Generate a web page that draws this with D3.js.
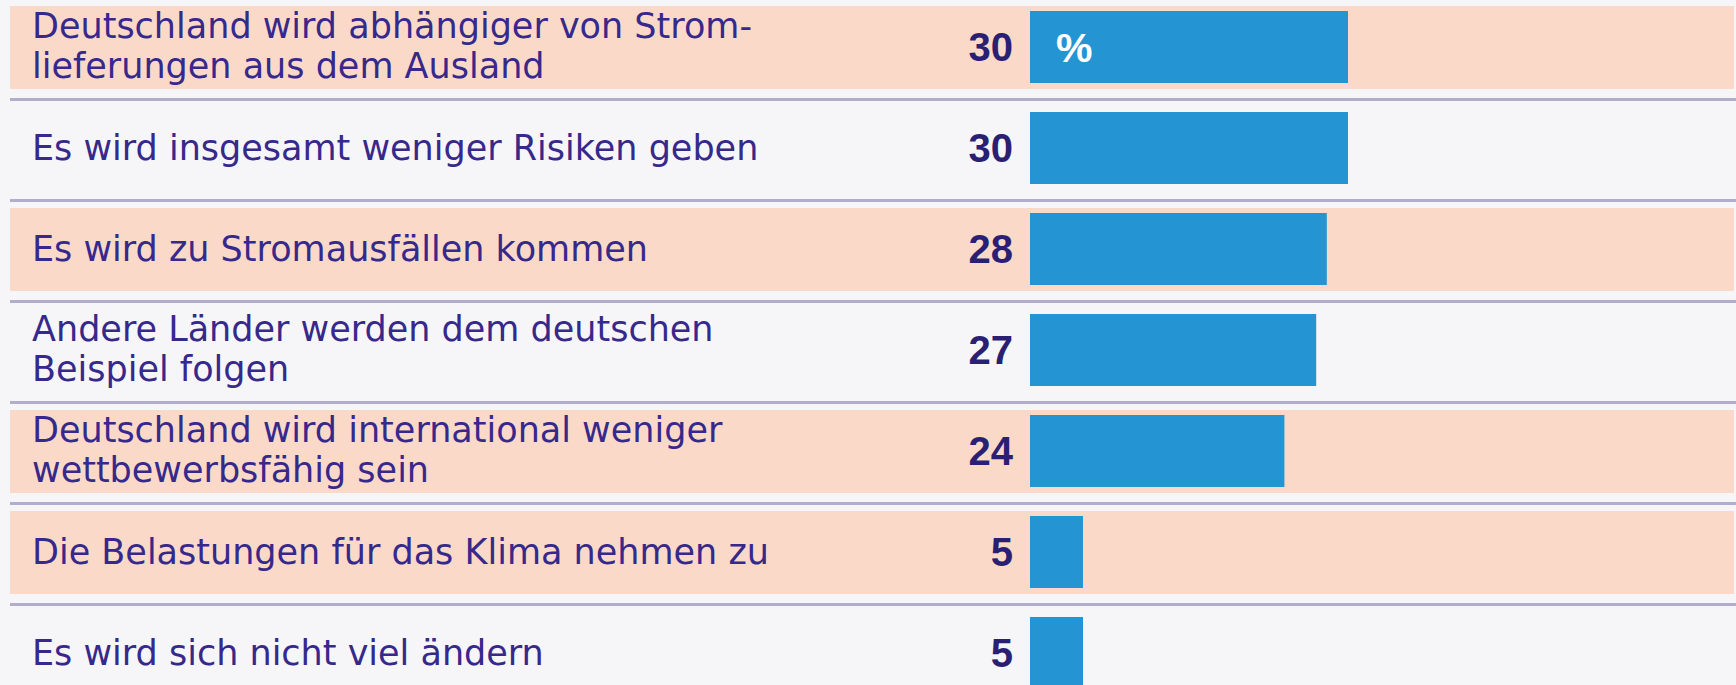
<!DOCTYPE html>
<html>
<head>
<meta charset="utf-8">
<script src="https://cdn.jsdelivr.net/npm/d3@7"></script>
<style>
  body { margin: 0; background: #f6f6f8; }
  svg { display: block; }
  .label { font-family: "DejaVu Sans", sans-serif; font-size: 35px; fill: #36298b; }
  .value { font-family: "Liberation Sans", Arial, sans-serif; font-size: 40px; font-weight: bold; fill: #2b1f74; }
  .unit { font-family: "Liberation Sans", Arial, sans-serif; font-size: 41px; font-weight: bold; fill: #ffffff; }
</style>
</head>
<body>
<script>
// Antworten (Zeilenumbruch mit \n)
const antworten = [
  "Deutschland wird abhängiger von Strom-\nlieferungen aus dem Ausland",
  "Es wird insgesamt weniger Risiken geben",
  "Es wird zu Stromausfällen kommen",
  "Andere Länder werden dem deutschen\nBeispiel folgen",
  "Deutschland wird international weniger\nwettbewerbsfähig sein",
  "Die Belastungen für das Klima nehmen zu",
  "Es wird sich nicht viel ändern"
];
// Prozentwerte
const prozent = [30, 30, 28, 27, 24, 5, 5];
// negative Folge (farbig hinterlegt)
const negativ = [true, false, true, false, true, true, false];

let width = 1736, height = 685;
let svg, x, y;
let rows = null;

rows = antworten.map((a, i) => ({ label: a, wert: prozent[i], neg: negativ[i] }));

appendSvg("body");
setupScales();
appendRows();

function appendSvg(domElement) {
  svg = d3.select(domElement).append("svg")
    .attr("width", width)
    .attr("height", height);
}

function setupScales() {
  x = d3.scaleLinear()
    .domain([0, 30])
    .range([1030, 1348]);
  y = d3.scaleBand()
    .domain(d3.range(rows.length))
    .range([6, 6 + 101 * rows.length])
    .paddingInner(0);
}

function appendRows() {
  const g = svg.selectAll("g.row")
    .data(rows)
    .enter().append("g")
    .attr("class", "row")
    .attr("transform", (d, i) => `translate(0, ${y(i)})`);

  // peach background for negative answers
  g.filter(d => d.neg).append("rect")
    .attr("x", 10)
    .attr("y", 0)
    .attr("width", width - 12)
    .attr("height", 83)
    .attr("fill", "#fbd9c9");

  // separator lines
  g.append("line")
    .attr("x1", 10)
    .attr("x2", width)
    .attr("y1", 93.5)
    .attr("y2", 93.5)
    .attr("stroke", "#b1adcb")
    .attr("stroke-width", 3);

  // bars
  g.append("rect")
    .attr("x", x(0))
    .attr("y", 5)
    .attr("width", d => x(d.wert) - x(0))
    .attr("height", 72)
    .attr("fill", "#2494d3");

  const mid = 5 + 36;

  // values
  g.append("text")
    .attr("class", "value")
    .attr("x", 1013)
    .attr("y", mid + 14)
    .attr("text-anchor", "end")
    .text(d => d.wert);

  // labels
  g.append("text")
    .attr("class", "label")
    .each(function(d) {
      const lines = d.label.split("\n");
      const lh = 40;
      const first = mid + 12 - (lines.length - 1) * (lh / 2 + 1);
      d3.select(this).selectAll("tspan")
        .data(lines)
        .enter().append("tspan")
        .attr("x", 32)
        .attr("y", (l, j) => first + j * lh)
        .text(l => l);
    });

  // percent sign in first bar
  svg.append("text")
    .attr("class", "unit")
    .attr("x", x(0) + 26)
    .attr("y", y(0) + mid + 15)
    .text("%");
}
</script>
</body>
</html>
